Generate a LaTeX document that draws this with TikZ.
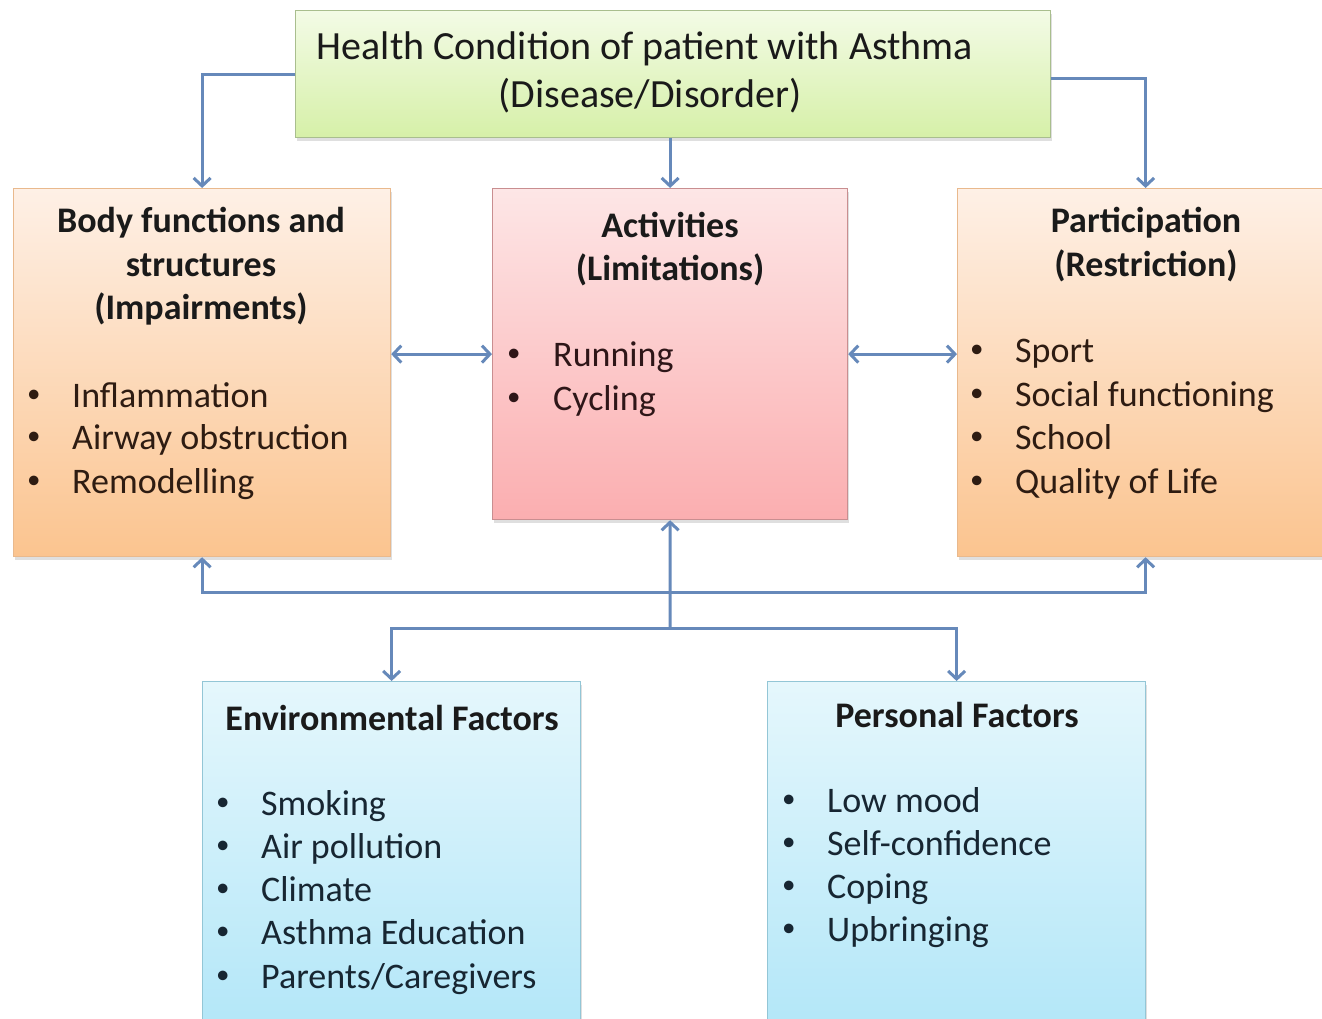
\documentclass[tikz,border=0pt]{standalone}
\usepackage{fontspec}
\setmainfont{Carlito}
\usetikzlibrary{arrows.meta,shadows}
\definecolor{conncol}{HTML}{6689BA}
\definecolor{txtk}{HTML}{1A1A1A}
\definecolor{txto}{HTML}{2E1C12}
\definecolor{txtp}{HTML}{2E1618}
\definecolor{txtb}{HTML}{172632}
\definecolor{gtop}{HTML}{F3FBE6}
\definecolor{gbot}{HTML}{D6F0A8}
\definecolor{gdraw}{HTML}{A9BE8E}
\definecolor{otop}{HTML}{FEF0E6}
\definecolor{obot}{HTML}{FBC48F}
\definecolor{odraw}{HTML}{E9B98D}
\definecolor{ptop}{HTML}{FDE6E6}
\definecolor{pbot}{HTML}{FBAEB0}
\definecolor{pdraw}{HTML}{C98E90}
\definecolor{btop}{HTML}{E5F7FC}
\definecolor{bbot}{HTML}{B1E6F8}
\definecolor{bdraw}{HTML}{93C6D6}
\tikzset{
  box/.style={draw, line width=1.2pt, anchor=north west, inner sep=0pt,
    drop shadow={opacity=0.25, shadow xshift=1.5pt, shadow yshift=-3pt}},
  greenbox/.style={box, draw=gdraw, top color=gtop, bottom color=gbot},
  orangebox/.style={box, draw=odraw, top color=otop, bottom color=obot},
  pinkbox/.style={box, draw=pdraw, top color=ptop, bottom color=pbot},
  bluebox/.style={box, draw=bdraw, top color=btop, bottom color=bbot},
  conn/.style={draw=conncol, line width=3pt, arrows={Straight Barb[length=8pt,width=17pt,line width=3pt]-Straight Barb[length=8pt,width=17pt,line width=3pt]}},
  fw/.style={conn, arrows={-Straight Barb[length=8pt,width=17pt,line width=3pt]}},
  lbl/.style={anchor=base, inner sep=0pt, text=txtk, font=\fontsize{36}{43}\selectfont\bfseries},
  item/.style={anchor=base west, inner sep=0pt, font=\fontsize{36}{43}\selectfont},
  dot/.style={anchor=base west, inner sep=0pt, yshift=5pt, font=\fontsize{27}{30}\selectfont},
  title/.style={anchor=base, inner sep=0pt, text=txtk, font=\fontsize{40}{48}\selectfont}
}
\begin{document}
\begin{tikzpicture}[x=1pt,y=-1pt]
\useasboundingbox (0,0) rectangle (1322,1019);
\clip (0,0) rectangle (1322,1019);
\fill[white] (0,0) rectangle (1322,1019);

% boxes
\node[greenbox, minimum width=755, minimum height=127] (hc) at (295,10) {};
\node[orangebox, minimum width=377, minimum height=368] (bf) at (13,188) {};
\node[pinkbox, minimum width=355, minimum height=331] (ac) at (492,188) {};
\node[orangebox, minimum width=376, minimum height=368] (pr) at (957,188) {};
\node[bluebox, minimum width=378, minimum height=360] (ef) at (202,681) {};
\node[bluebox, minimum width=378, minimum height=360] (pf) at (767,681) {};

% connectors from the health condition
\draw[fw] (hc.west) -| (bf.north);
\draw[fw] (ac.north |- hc.south) -- (ac.north);
\draw[fw] ([yshift=-4pt]hc.east) -| (pr.north);
% two-way links between the middle row
\draw[conn] (ac.west -| bf.east) -- (ac.west);
\draw[conn] (ac.east) -- (ac.east -| pr.west);
% contextual factors bus
\coordinate (busA) at (670,592);
\coordinate (busB) at (670,628);
\draw[conn] (bf.south) |- (busA) -| (pr.south);
\draw[conn] (ef.north) |- (busB) -| (pf.north);
\draw[fw] (busB) -- (ac.south);

% health condition text
\node[title] (hc1) at (645,60) {Health Condition of patient with Asthma};
\node[title] (hc2) at (650,108) {(Disease/Disorder)};

% body functions
\begin{scope}[text=txto]
\node[lbl] (bf1) at (201,233) {Body functions and};
\node[lbl] (bf2) at (201,276) {structures};
\node[lbl] (bf3) at (201,319) {(Impairments)};
\node[dot] (bfb1) at (27,407) {•};
\node[item] (bfi1) at (72,407) {Inflammation};
\node[dot] (bfb2) at (27,449) {•};
\node[item] (bfi2) at (72,449) {Airway obstruction};
\node[dot] (bfb3) at (27,493) {•};
\node[item] (bfi3) at (72,493) {Remodelling};
\end{scope}

% activities
\begin{scope}[text=txtp]
\node[lbl] (ac1) at (670,237) {Activities};
\node[lbl] (ac2) at (670,280) {(Limitations)};
\node[dot] (acb1) at (507,366) {•};
\node[item] (aci1) at (553,366) {Running};
\node[dot] (acb2) at (507,410) {•};
\node[item] (aci2) at (553,410) {Cycling};
\end{scope}

% participation
\begin{scope}[text=txto]
\node[lbl] (pr1) at (1146,233) {Participation};
\node[lbl] (pr2) at (1146,276) {(Restriction)};
\node[dot] (prb1) at (970,362) {•};
\node[item] (pri1) at (1015,362) {Sport};
\node[dot] (prb2) at (970,406) {•};
\node[item] (pri2) at (1015,406) {Social functioning};
\node[dot] (prb3) at (970,449) {•};
\node[item] (pri3) at (1015,449) {School};
\node[dot] (prb4) at (970,493) {•};
\node[item] (pri4) at (1015,493) {Quality of Life};
\end{scope}

% environmental factors
\begin{scope}[text=txtb]
\node[lbl] (ef1) at (392,730) {Environmental Factors};
\node[dot] (efb1) at (216,815) {•};
\node[item] (efi1) at (261,815) {Smoking};
\node[dot] (efb2) at (216,858) {•};
\node[item] (efi2) at (261,858) {Air pollution};
\node[dot] (efb3) at (216,901) {•};
\node[item] (efi3) at (261,901) {Climate};
\node[dot] (efb4) at (216,944) {•};
\node[item] (efi4) at (261,944) {Asthma Education};
\node[dot] (efb5) at (216,988) {•};
\node[item] (efi5) at (261,988) {Parents/Caregivers};
\end{scope}

% personal factors
\begin{scope}[text=txtb]
\node[lbl] (pf1) at (957,727) {Personal Factors};
\node[dot] (pfb1) at (782,812) {•};
\node[item] (pfi1) at (827,812) {Low mood};
\node[dot] (pfb2) at (782,855) {•};
\node[item] (pfi2) at (827,855) {Self-confidence};
\node[dot] (pfb3) at (782,898) {•};
\node[item] (pfi3) at (827,898) {Coping};
\node[dot] (pfb4) at (782,941) {•};
\node[item] (pfi4) at (827,941) {Upbringing};
\end{scope}
\end{tikzpicture}
\end{document}
